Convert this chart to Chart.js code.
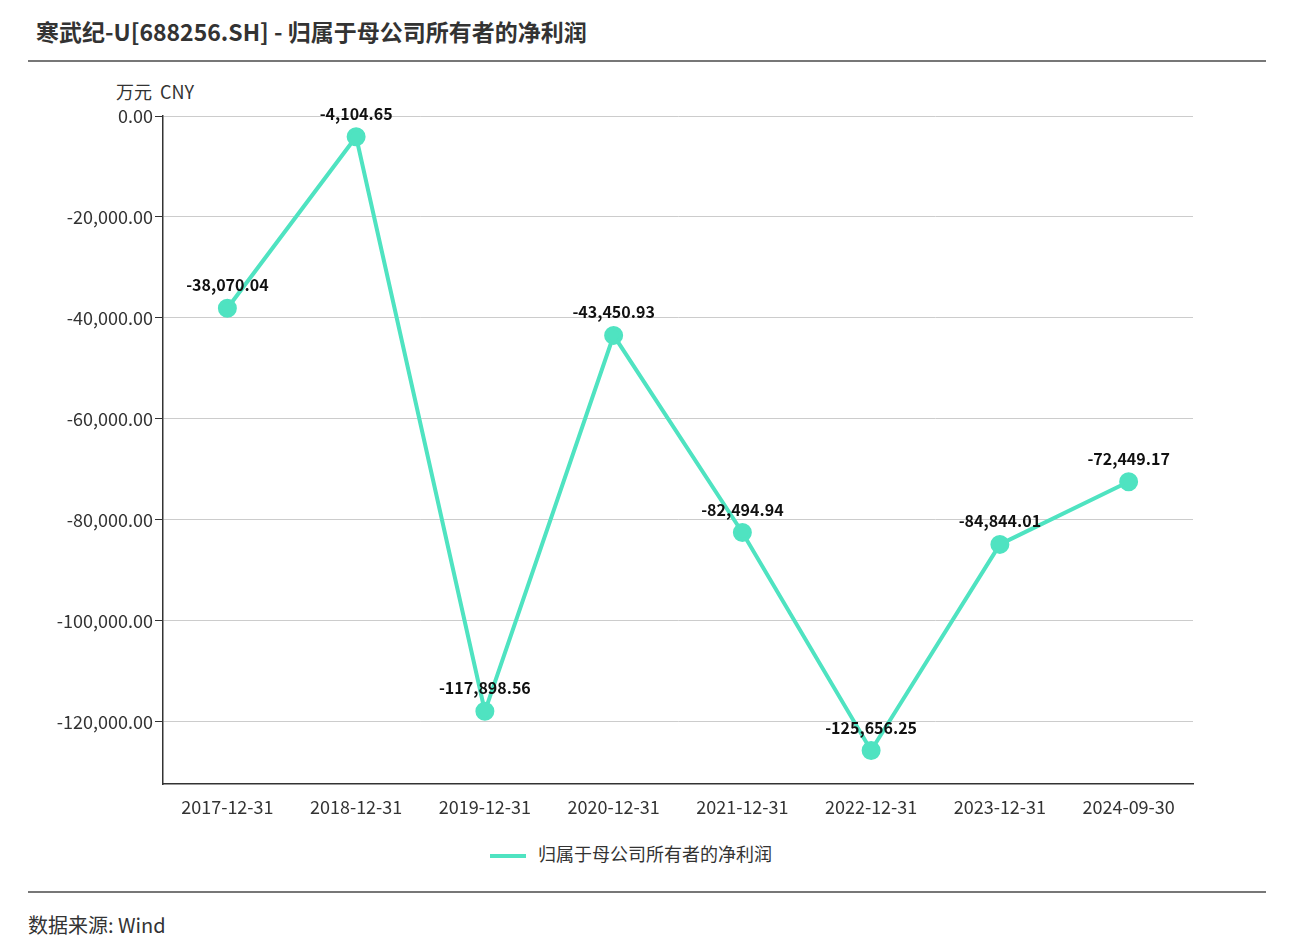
<!DOCTYPE html>
<html>
<head>
<meta charset="utf-8">
<script src="https://cdn.jsdelivr.net/npm/chart.js@4"></script>
<style>
  body { margin: 0; width: 1295px; height: 951px; background: #fff; font-family: "Noto Sans CJK SC", sans-serif; position: relative; overflow: hidden; }
  .title { position: absolute; left: 36px; top: 14px; font-size: 23px; font-weight: bold; color: #333; }
  .rule { position: absolute; left: 28px; width: 1238px; height: 2px; background: #777; }
  .unit { position: absolute; left: 116px; top: 78px; font-size: 18px; color: #333; }
  .legend { position: absolute; left: 490px; top: 840px; font-size: 18px; color: #333; }
  .legend span { display: inline-block; width: 36px; height: 4px; background: #4fe3c1; vertical-align: middle; margin-right: 12px; }
  .source { position: absolute; left: 28px; top: 910px; font-size: 20px; color: #333; }
  canvas { position: absolute; left: 0; top: 0; }
</style>
</head>
<body>
<div class="title">寒武纪-U[688256.SH] - 归属于母公司所有者的净利润</div>
<div class="rule" style="top:60px"></div>
<div class="unit">万元&nbsp;&nbsp;CNY</div>
<div class="legend"><span></span>归属于母公司所有者的净利润</div>
<div class="rule" style="top:891px"></div>
<div class="source">数据来源: Wind</div>
<canvas id="c" width="1295" height="951"></canvas>
<script>
// data
const periods = ['2017-12-31', '2018-12-31', '2019-12-31', '2020-12-31', '2021-12-31', '2022-12-31', '2023-12-31', '2024-09-30'];
const netProfit = [-38070.04, -4104.65, -117898.56, -43450.93, -82494.94, -125656.25, -84844.01, -72449.17];
const yTicks = [0, -20000, -40000, -60000, -80000, -100000, -120000];

const fmt = v => v.toLocaleString('en-US', { minimumFractionDigits: 2, maximumFractionDigits: 2 });

const labelPlugin = {
  id: 'valueLabels',
  afterDatasetsDraw(chart) {
    const ctx = chart.ctx;
    const meta = chart.getDatasetMeta(0);
    ctx.save();
    ctx.font = 'bold 16px "Noto Sans CJK SC", sans-serif';
    ctx.fillStyle = '#111';
    ctx.textAlign = 'center';
    ctx.textBaseline = 'bottom';
    meta.data.forEach((pt, i) => {
      ctx.fillText(fmt(netProfit[i]), pt.x, pt.y - 15);
    });
    ctx.restore();
  }
};

new Chart(document.getElementById('c'), {
  type: 'line',
  data: {
    labels: periods,
    datasets: [{
      data: netProfit,
      borderColor: '#4fe3c1',
      backgroundColor: '#4fe3c1',
      borderWidth: 4,
      pointRadius: 7.5,
      pointHoverRadius: 7.5,
      tension: 0
    }]
  },
  options: {
    responsive: false,
    animation: false,
    layout: { padding: { left: 0, right: 102, top: 116, bottom: 127 } },
    plugins: { legend: { display: false }, tooltip: { enabled: false } },
    scales: {
      x: {
        offset: true,
        afterFit(s) { s.height = 40; },
        grid: { display: false, drawTicks: true, tickLength: 8, color: '#333' },
        border: { color: '#333', width: 1.5 },
        ticks: { color: '#333', font: { size: 18, family: '"Noto Sans CJK SC", sans-serif' }, padding: 4 }
      },
      y: {
        min: -132300,
        max: 0,
        afterFit(s) { s.width = 163; },
        afterBuildTicks(s) { s.ticks = yTicks.map(v => ({ value: v })); },
        grid: { color: '#ccc', tickColor: '#333', tickLength: 8, tickBorderDash: [0], borderDash: [5, 4] },
        border: { color: '#333', width: 1.5, dash: [] },
        ticks: {
          color: '#333',
          font: { size: 18, family: '"Noto Sans CJK SC", sans-serif' },
          padding: 2,
          callback: v => fmt(v)
        }
      }
    }
  },
  plugins: [labelPlugin]
});
</script>
</body>
</html>
